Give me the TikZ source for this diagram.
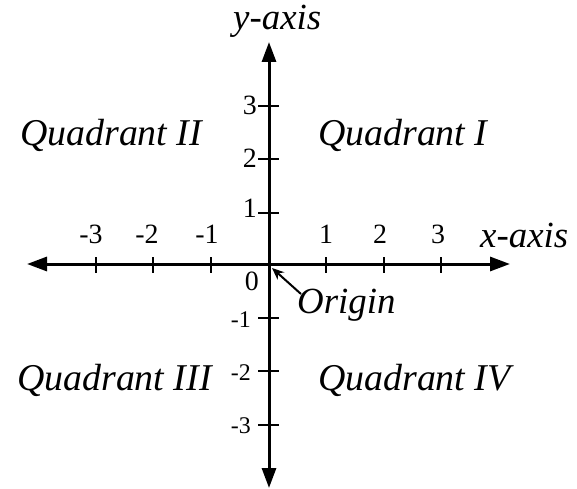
\documentclass[tikz,border=0pt]{standalone}
\usepackage{fontspec}
\setmainfont{Liberation Serif}
\usetikzlibrary{arrows.meta}
\begin{document}
\begin{tikzpicture}[x=1bp,y=-1bp,
  axis/.style={line width=3bp, {Triangle[length=20bp,width=14bp]}-{Triangle[length=20bp,width=14bp]}},
  tickmark/.style={line width=2bp},
  num/.style={font=\fontsize{28}{30}\selectfont, inner sep=0pt},
  smallnum/.style={font=\fontsize{24}{26}\selectfont, inner sep=0pt},
  lab/.style={font=\fontsize{38}{40}\selectfont\itshape, inner sep=0pt},
  axlab/.style={font=\fontsize{37}{39}\selectfont\itshape, inner sep=0pt}]
\useasboundingbox (0,0) rectangle (577,489);
% axes
\coordinate (xl) at (27,264);
\coordinate (xr) at (510,264);
\coordinate (yt) at (269,42);
\coordinate (yb) at (269,488);
\draw[axis] (xl) -- (xr);
\draw[axis] (yb) -- (yt);
% x ticks
\foreach \x in {96,153,211,326,384,441}
  \draw[tickmark] (\x,257) -- (\x,273);
% y ticks
\foreach \y in {106,159,213,318,371,425}
  \draw[tickmark] (258,\y) -- (279,\y);
% x labels
\node[num, anchor=base] (xm3) at (91,243) {-3};
\node[num, anchor=base] (xm2) at (147,243) {-2};
\node[num, anchor=base] (xm1) at (207,243) {-1};
\node[num, anchor=base] (xp1) at (326,243) {1};
\node[num, anchor=base] (xp2) at (380,243) {2};
\node[num, anchor=base] (xp3) at (438,243) {3};
% y labels
\node[num, anchor=base east] (yp3) at (257,115) {3};
\node[num, anchor=base east] (yp2) at (257,168) {2};
\node[num, anchor=base east] (yp1) at (257,218) {1};
\node[num, anchor=base east] (y0) at (259,290) {0};
\node[smallnum, anchor=base east] (ym1) at (251,327) {-1};
\node[smallnum, anchor=base east] (ym2) at (251,380) {-2};
\node[smallnum, anchor=base east] (ym3) at (251,433) {-3};
% axis labels
\node[axlab, anchor=base west] (xlab) at (480,247) {x-axis};
\node[axlab, anchor=base west] (ylab) at (233,30) {y-axis};
% quadrants
\node[lab, anchor=base west] (q2) at (20,146) {Quadrant II};
\node[lab, anchor=base west] (q1) at (318,146) {Quadrant I};
\node[lab, anchor=base west] (q3) at (17,390) {Quadrant III};
\node[lab, anchor=base west] (q4) at (318,390) {Quadrant IV};
% origin
\node[axlab, anchor=base west] (orig) at (297,313) {Origin};
\coordinate (os) at (301,294);
\coordinate (ot) at (272,268);
\draw[line width=2bp, -{Stealth[length=12bp,width=10bp]}] (os) -- (ot);
\end{tikzpicture}
\end{document}
